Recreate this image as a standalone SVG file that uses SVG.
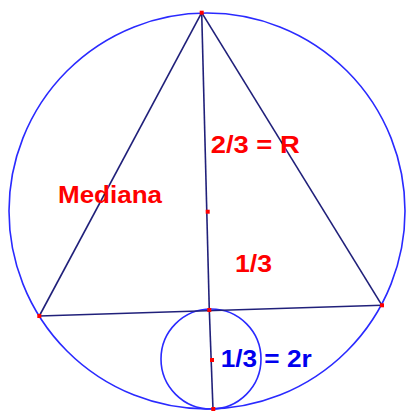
<svg xmlns="http://www.w3.org/2000/svg" width="406" height="412" viewBox="0 0 406 412">
<style>
.circ{fill:none;stroke:#2a2aff;stroke-width:1.6}
.ln{stroke:#20207a;stroke-width:1.6;fill:none}
.pt{fill:#ff0000}
.t{font-family:"Liberation Sans",Arial,sans-serif;font-weight:bold;font-size:24px}
.red{fill:#ff0000}
.blue{fill:#0000ee}
</style>
<rect width="406" height="412" fill="#ffffff"/>
<g id="circumcircle"><circle class="circ" cx="207" cy="211" r="198"/></g>
<g id="incircle"><circle class="circ" cx="211" cy="359" r="50"/></g>
<g id="connectors">
<line class="ln" x1="201.7" y1="12.7" x2="39.3" y2="316"/>
<line class="ln" x1="201.7" y1="12.7" x2="382" y2="305.3"/>
<line class="ln" x1="39.3" y1="316" x2="382" y2="305.3"/>
<line class="ln" x1="201.7" y1="12.7" x2="209.3" y2="310"/>
<line class="ln" x1="209.3" y1="310" x2="213" y2="409"/>
</g>
<g id="points">
<rect class="pt" x="199.7" y="10.7" width="4" height="4"/>
<rect class="pt" x="37.3" y="314" width="4" height="4"/>
<rect class="pt" x="380" y="303.3" width="4" height="4"/>
<rect class="pt" x="205.7" y="209.7" width="4" height="4"/>
<rect class="pt" x="207.3" y="308" width="4" height="4"/>
<rect class="pt" x="210" y="358" width="4" height="4"/>
<rect class="pt" x="211.3" y="407" width="4" height="4"/>
</g>
<g id="labels">
<text class="t red" x="210.7" y="153.3" textLength="89" lengthAdjust="spacingAndGlyphs">2/3 = R</text>
<text class="t red" x="58" y="203.3" textLength="104" lengthAdjust="spacingAndGlyphs">Mediana</text>
<text class="t red" x="235" y="272" textLength="37" lengthAdjust="spacingAndGlyphs">1/3</text>
<text class="t blue" x="220.7" y="367" textLength="91" lengthAdjust="spacingAndGlyphs">1/3 = 2r</text>
</g>
</svg>
